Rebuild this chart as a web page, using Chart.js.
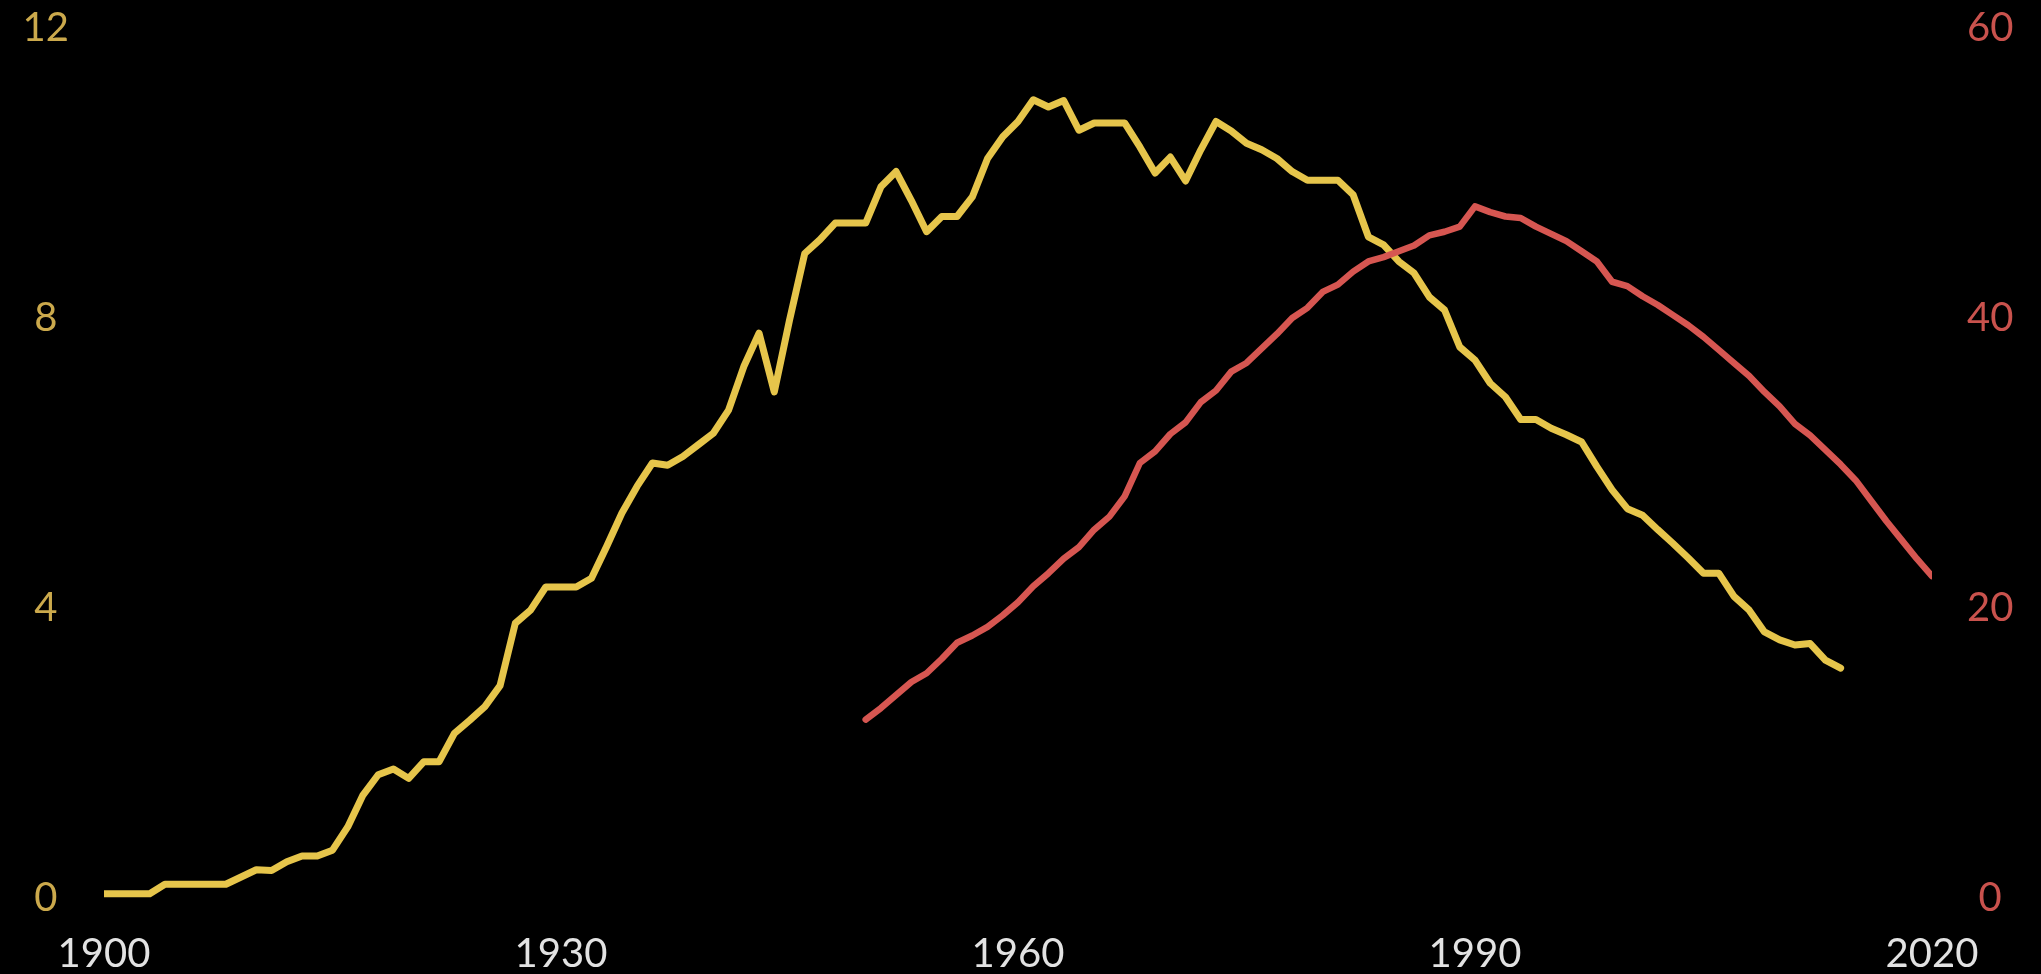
<!DOCTYPE html>
<html>
<head>
<meta charset="utf-8">
<script src="https://cdn.jsdelivr.net/npm/chart.js@4.4.0/dist/chart.umd.min.js"></script>
<style>
  html, body { margin: 0; padding: 0; background: #000; overflow: hidden; }
  #wrap { position: relative; width: 2041px; height: 974px; background: #000; }
</style>
</head>
<body>
<div id="wrap"><canvas id="c"></canvas></div>
<script>
// ---- Data ----
const yellowStartYear = 1900;
const yellowValues = [
  0.06, 0.06, 0.06, 0.06, 0.19, 0.19, 0.19, 0.19, 0.19, 0.29,   // 1900-1909
  0.39, 0.38, 0.50, 0.58, 0.58, 0.66, 0.98, 1.42, 1.70, 1.78,   // 1910-1919
  1.65, 1.88, 1.88, 2.27, 2.45, 2.64, 2.93, 3.79, 3.97, 4.29,   // 1920-1929
  4.29, 4.29, 4.41, 4.85, 5.31, 5.68, 6.00, 5.97, 6.09, 6.25,   // 1930-1939
  6.41, 6.73, 7.33, 7.79, 6.98, 7.97, 8.89, 9.08, 9.31, 9.31,   // 1940-1949
  9.31, 9.81, 10.02, 9.62, 9.19, 9.40, 9.40, 9.67, 10.20, 10.50, // 1950-1959
  10.71, 11.01, 10.91, 11.00, 10.59, 10.69, 10.69, 10.69, 10.36, 10.00, // 1960-1969
  10.22, 9.89, 10.32, 10.71, 10.58, 10.41, 10.32, 10.20, 10.02, 9.90,   // 1970-1979
  9.90, 9.90, 9.70, 9.12, 9.01, 8.78, 8.62, 8.29, 8.11, 7.60,   // 1980-1989
  7.42, 7.10, 6.91, 6.60, 6.60, 6.48, 6.39, 6.29, 5.95, 5.63,   // 1990-1999
  5.37, 5.28, 5.08, 4.89, 4.69, 4.48, 4.48, 4.16, 3.97, 3.67,   // 2000-2009
  3.56, 3.49, 3.51, 3.28, 3.17                                  // 2010-2014
];

const redStartYear = 1950;
const redValues = [
  12.3, 13.1, 14.0, 14.9, 15.5, 16.5, 17.6, 18.1, 18.7, 19.5,   // 1950-1959
  20.4, 21.5, 22.4, 23.4, 24.2, 25.4, 26.3, 27.7, 30.0, 30.8,   // 1960-1969
  32.0, 32.8, 34.2, 35.0, 36.3, 36.9, 37.9, 38.9, 40.0, 40.7,   // 1970-1979
  41.8, 42.3, 43.2, 43.9, 44.2, 44.6, 45.0, 45.7, 45.95, 46.3,  // 1980-1989
  47.7, 47.3, 47.0, 46.9, 46.3, 45.8, 45.3, 44.6, 43.9, 42.5,   // 1990-1999
  42.2, 41.5, 40.9, 40.2, 39.5, 38.7, 37.8, 36.9, 36.0, 34.9,   // 2000-2009
  33.9, 32.7, 31.9, 30.9, 29.9, 28.8, 27.4, 26.0, 24.7, 23.4,   // 2010-2019
  22.2                                                          // 2020
];

const xTicks = [1900, 1930, 1960, 1990, 2020];
const leftTicks = [0, 4, 8, 12];
const rightTicks = [0, 20, 40, 60];

// ---- Build chart ----
const toPoints = (start, vals) => vals.map((v, i) => ({ x: start + i, y: v }));

const FONT = "Lato, 'Open Sans', sans-serif";

function fitY(width) {
  return (s) => { s.width = width; s.paddingTop = 0; s.paddingBottom = 0; };
}

new Chart(document.getElementById('c'), {
  type: 'line',
  data: {
    datasets: [
      {
        data: toPoints(redStartYear, redValues),
        yAxisID: 'y2',
        borderColor: '#d65651',
        borderWidth: 6.5,
        pointRadius: 0,
        tension: 0,
        borderCapStyle: 'round',
        borderJoinStyle: 'round'
      },
      {
        data: toPoints(yellowStartYear, yellowValues),
        yAxisID: 'y',
        borderColor: '#e6c54b',
        borderWidth: 7,
        pointRadius: 0,
        tension: 0,
        borderCapStyle: 'round',
        borderJoinStyle: 'round'
      }
    ]
  },
  options: {
    responsive: true,
    maintainAspectRatio: false,
    animation: false,
    events: [],
    layout: { padding: { top: 28, left: 0, right: 0, bottom: 0 } },
    plugins: { legend: { display: false }, tooltip: { enabled: false } },
    scales: {
      x: {
        type: 'linear',
        min: xTicks[0],
        max: xTicks[xTicks.length - 1],
        afterBuildTicks: (s) => { s.ticks = xTicks.map(v => ({ value: v })); },
        afterFit: (s) => { s.height = 76; s.paddingLeft = 0; s.paddingRight = 0; },
        grid: { display: false, drawTicks: false },
        border: { display: false },
        ticks: {
          color: '#e2e2e2',
          font: { family: FONT, size: 40 },
          padding: 32,
          maxRotation: 0,
          autoSkip: false,
          callback: (v) => String(v)
        }
      },
      y: {
        position: 'left',
        min: leftTicks[0],
        max: leftTicks[leftTicks.length - 1],
        afterBuildTicks: (s) => { s.ticks = leftTicks.map(v => ({ value: v })); },
        afterFit: fitY(104),
        grid: { display: false, drawTicks: false },
        border: { display: false },
        ticks: {
          color: '#cba94c',
          font: { family: FONT, size: 40 },
          crossAlign: 'center',
          padding: 35,
          autoSkip: false
        }
      },
      y2: {
        position: 'right',
        min: rightTicks[0],
        max: rightTicks[rightTicks.length - 1],
        afterBuildTicks: (s) => { s.ticks = rightTicks.map(v => ({ value: v })); },
        afterFit: fitY(109),
        grid: { display: false, drawTicks: false },
        border: { display: false },
        ticks: {
          color: '#c9524d',
          font: { family: FONT, size: 40 },
          crossAlign: 'center',
          padding: 35,
          autoSkip: false
        }
      }
    }
  }
});
</script>
</body>
</html>
